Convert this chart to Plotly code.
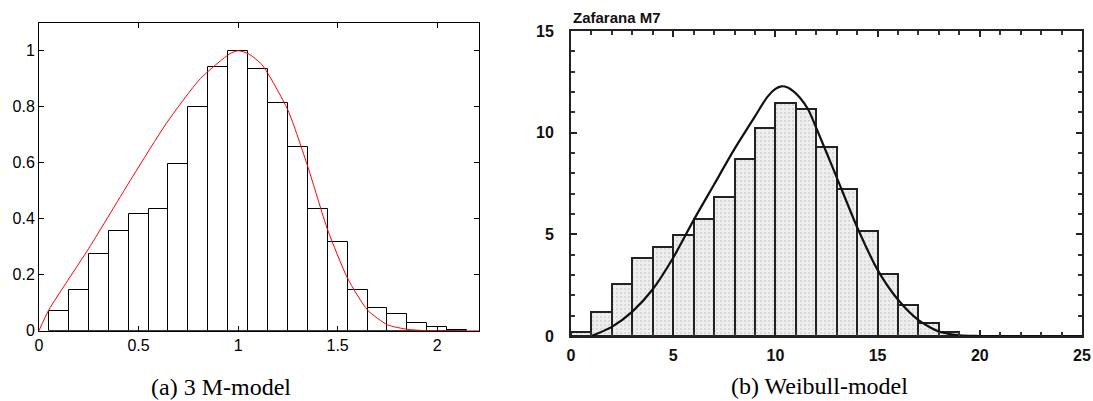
import plotly.graph_objects as go

# ---------------- Data: (a) 3 M-model ----------------
a_centers = [0.1, 0.2, 0.3, 0.4, 0.5, 0.6, 0.7, 0.8, 0.9, 1.0, 1.1,
             1.2, 1.3, 1.4, 1.5, 1.6, 1.7, 1.8, 1.9, 2.0, 2.1]
a_heights = [0.070, 0.146, 0.274, 0.357, 0.416, 0.434, 0.594, 0.799, 0.941, 1.0, 0.935,
             0.814, 0.655, 0.434, 0.318, 0.145, 0.080, 0.061, 0.028, 0.012, 0.002]
a_curve_x = [0.0, 0.05, 0.25, 0.47, 0.64, 0.81, 0.96, 1.0, 1.05, 1.12, 1.25, 1.35,
             1.45, 1.55, 1.65, 1.75, 1.85, 1.95, 2.21]
a_curve_y = [0.0, 0.075, 0.294, 0.55, 0.741, 0.90, 0.99, 1.0, 0.99, 0.95, 0.788, 0.586,
             0.36, 0.187, 0.074, 0.021, 0.005, 0.0, 0.0]

# ---------------- Data: (b) Weibull-model ----------------
b_centers = [0.5, 1.5, 2.5, 3.5, 4.5, 5.5, 6.5, 7.5, 8.5, 9.5, 10.5,
             11.5, 12.5, 13.5, 14.5, 15.5, 16.5, 17.5, 18.5]
b_heights = [0.21, 1.19, 2.58, 3.84, 4.38, 4.95, 5.75, 6.86, 8.71, 10.25, 11.45,
             11.14, 9.31, 7.22, 5.15, 3.07, 1.52, 0.65, 0.2]
b_curve_x = [1.0, 2.0, 3.0, 4.0, 5.0, 6.0, 7.0, 8.0, 9.0, 9.6, 10.0, 10.3, 10.6,
             10.9, 11.2, 11.6, 12.0, 13.0, 14.0, 15.0, 16.0, 17.0, 18.0, 19.0, 20.0, 25.0]
b_curve_y = [0.0, 0.45, 1.2, 2.3, 3.85, 5.7, 7.45, 9.2, 10.8, 11.75, 12.15, 12.28, 12.22,
             12.02, 11.72, 11.15, 10.23, 7.8, 5.35, 3.25, 1.78, 0.78, 0.22, 0.03, 0.0, 0.0]

title_b = "Zafarana M7"
caption_a = "(a) 3 M-model"
caption_b = "(b) Weibull-model"

W, H = 1093, 401


def px(X):
    return X / W


def py(Y):
    return 1 - Y / H


fig = go.Figure()

fig.add_trace(go.Bar(x=a_centers, y=a_heights, width=0.1,
                     marker=dict(color="white", line=dict(color="black", width=1)),
                     xaxis="x", yaxis="y", showlegend=False))
fig.add_trace(go.Scatter(x=a_curve_x, y=a_curve_y, mode="lines",
                         line=dict(color="red", width=1, shape="spline", smoothing=0.6),
                         xaxis="x", yaxis="y", showlegend=False))

fig.add_trace(go.Bar(x=b_centers, y=b_heights, width=1.0,
                     marker=dict(color="#e8e8e8", line=dict(color="#222222", width=2),
                                 pattern=dict(shape=".", fgcolor="#b8b8b8", bgcolor="#eeeeee",
                                              size=4, solidity=0.2)),
                     xaxis="x2", yaxis="y2", showlegend=False))
fig.add_trace(go.Scatter(x=b_curve_x, y=b_curve_y, mode="lines",
                         line=dict(color="#111111", width=2.2, shape="spline", smoothing=0.7),
                         xaxis="x2", yaxis="y2", showlegend=False))

left_font = dict(family="Liberation Sans, Arial", size=16, color="black")
right_font = dict(family="Liberation Sans, Arial", size=16, color="#111111", weight="bold")

fig.update_layout(
    width=W, height=H, autosize=False,
    margin=dict(l=0, r=0, t=0, b=0, pad=0, autoexpand=False),
    paper_bgcolor="white", plot_bgcolor="white", bargap=0,
    xaxis=dict(domain=[px(39), px(479)], range=[0, 2.21], tickvals=[0, 0.5, 1, 1.5, 2],
               ticktext=["0", "0.5", "1", "1.5", "2"], automargin=False,
               ticks="inside", ticklen=5, tickcolor="black", mirror="allticks",
               showline=True, linecolor="black", linewidth=1, showgrid=False,
               zeroline=False, tickfont=left_font, anchor="y"),
    yaxis=dict(domain=[py(330.7), py(23)], range=[0, 1.099], automargin=False,
               tickvals=[0, 0.2, 0.4, 0.6, 0.8, 1], ticktext=["0", "0.2", "0.4", "0.6", "0.8", "1"],
               ticks="inside", ticklen=5, tickcolor="black", mirror="allticks",
               showline=True, linecolor="black", linewidth=1, showgrid=False,
               zeroline=False, tickfont=left_font, anchor="x"),
    xaxis2=dict(domain=[px(571), px(1082)], range=[0, 25], tickvals=[0, 5, 10, 15, 20, 25],
                automargin=False,
                ticks="inside", ticklen=6, tickwidth=2, tickcolor="#222222", mirror="allticks",
                minor=dict(dtick=1, ticks="inside", ticklen=4, tickwidth=1.5, tickcolor="#333333"),
                showline=True, linecolor="#222222", linewidth=2, showgrid=False,
                zeroline=False, tickfont=right_font, anchor="y2", ticklabelstandoff=4),
    yaxis2=dict(domain=[py(336), py(31)], range=[0, 15], tickvals=[0, 5, 10, 15],
                automargin=False,
                ticks="inside", ticklen=6, tickwidth=2, tickcolor="#222222", mirror="allticks",
                minor=dict(dtick=1, ticks="inside", ticklen=4, tickwidth=1.5, tickcolor="#333333"),
                showline=True, linecolor="#222222", linewidth=2, showgrid=False,
                zeroline=False, tickfont=right_font, anchor="x2", ticklabelstandoff=12),
    annotations=[
        dict(text=title_b, xref="paper", yref="paper", x=px(571), y=py(18),
             xanchor="left", yanchor="middle", showarrow=False,
             font=dict(family="Liberation Sans, Arial", size=15, color="#111111", weight="bold")),
        dict(text=caption_a, xref="paper", yref="paper", x=px(221), y=py(387),
             xanchor="center", yanchor="middle", showarrow=False,
             font=dict(family="Liberation Serif, Times New Roman", size=24, color="black")),
        dict(text=caption_b, xref="paper", yref="paper", x=px(819), y=py(386),
             xanchor="center", yanchor="middle", showarrow=False,
             font=dict(family="Liberation Serif, Times New Roman", size=24, color="black")),
    ],
)

fig.write_html("out.html")
